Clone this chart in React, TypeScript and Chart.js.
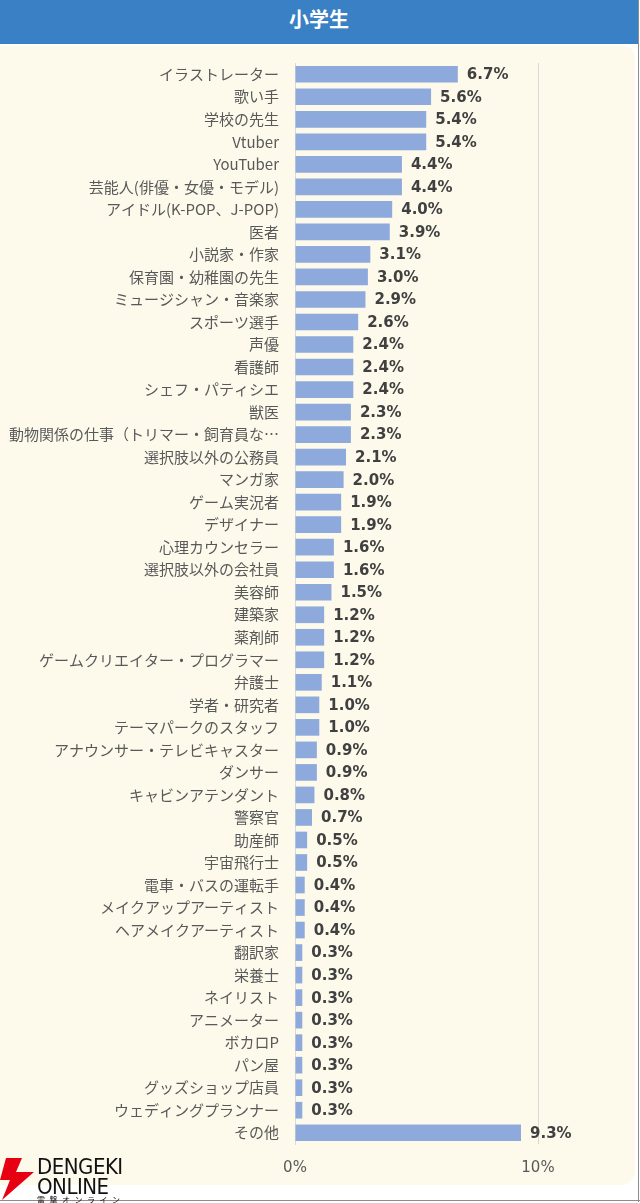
import React, { useEffect, useRef } from "react";
import { Chart, registerables } from "chart.js";

Chart.register(...registerables);

const title = "小学生";

const categories: string[] = [
  "イラストレーター",
  "歌い手",
  "学校の先生",
  "Vtuber",
  "YouTuber",
  "芸能人(俳優・女優・モデル)",
  "アイドル(K-POP、J-POP)",
  "医者",
  "小説家・作家",
  "保育園・幼稚園の先生",
  "ミュージシャン・音楽家",
  "スポーツ選手",
  "声優",
  "看護師",
  "シェフ・パティシエ",
  "獣医",
  "動物関係の仕事（トリマー・飼育員な…",
  "選択肢以外の公務員",
  "マンガ家",
  "ゲーム実況者",
  "デザイナー",
  "心理カウンセラー",
  "選択肢以外の会社員",
  "美容師",
  "建築家",
  "薬剤師",
  "ゲームクリエイター・プログラマー",
  "弁護士",
  "学者・研究者",
  "テーマパークのスタッフ",
  "アナウンサー・テレビキャスター",
  "ダンサー",
  "キャビンアテンダント",
  "警察官",
  "助産師",
  "宇宙飛行士",
  "電車・バスの運転手",
  "メイクアップアーティスト",
  "ヘアメイクアーティスト",
  "翻訳家",
  "栄養士",
  "ネイリスト",
  "アニメーター",
  "ボカロP",
  "パン屋",
  "グッズショップ店員",
  "ウェディングプランナー",
  "その他",
];

const values: number[] = [
  6.7, 5.6, 5.4, 5.4, 4.4, 4.4, 4.0, 3.9, 3.1, 3.0, 2.9, 2.6, 2.4, 2.4, 2.4,
  2.3, 2.3, 2.1, 2.0, 1.9, 1.9, 1.6, 1.6, 1.5, 1.2, 1.2, 1.2, 1.1, 1.0, 1.0,
  0.9, 0.9, 0.8, 0.7, 0.5, 0.5, 0.4, 0.4, 0.4, 0.3, 0.3, 0.3, 0.3, 0.3, 0.3,
  0.3, 0.3, 9.3,
];

const xTickValues: number[] = [0, 10];

const valueLabelPlugin = {
  id: "valueLabels",
  afterDatasetsDraw(chart: any) {
    const ctx = chart.ctx;
    const meta = chart.getDatasetMeta(0);
    ctx.save();
    ctx.font = "bold 15px 'DejaVu Sans', Verdana, sans-serif";
    ctx.fillStyle = "#404040";
    ctx.textAlign = "left";
    ctx.textBaseline = "middle";
    meta.data.forEach((bar: any, i: number) => {
      ctx.fillText(values[i].toFixed(1) + "%", bar.x + 9, bar.y + 1);
    });
    ctx.restore();
  },
};

export default function App() {
  const canvasRef = useRef<HTMLCanvasElement | null>(null);

  useEffect(() => {
    document.body.style.margin = "0";
    const canvas = canvasRef.current;
    if (!canvas) return;
    const chart = new Chart(canvas, {
      type: "bar",
      data: {
        labels: categories,
        datasets: [
          {
            data: values,
            backgroundColor: "#8EA9DB",
            borderWidth: 0,
            barPercentage: 0.74,
            categoryPercentage: 1,
          },
        ],
      },
      options: {
        indexAxis: "y",
        animation: false,
        responsive: false,
        maintainAspectRatio: false,
        layout: { padding: { top: 10, right: 94, bottom: 0, left: 0 } },
        plugins: {
          legend: { display: false },
          tooltip: { enabled: false },
        },
        scales: {
          x: {
            min: 0,
            max: 10,
            afterBuildTicks(scale: any) {
              scale.ticks = xTickValues.map((v) => ({ value: v }));
            },
            afterFit(scale: any) {
              scale.height = 41;
            },
            grid: {
              color: "#D9D9D9",
              drawTicks: false,
            },
            border: { display: false },
            ticks: {
              padding: 15,
              color: "#595959",
              font: { family: "'DejaVu Sans', Verdana, sans-serif", size: 15 },
              callback: (v: any) => v + "%",
            },
          },
          y: {
            afterFit(scale: any) {
              scale.width = 295;
            },
            grid: { display: false, drawTicks: false },
            border: { display: true, color: "#D9D9D9" },
            ticks: {
              autoSkip: false,
              padding: 16,
              color: "#595959",
              font: { family: "'Noto Sans CJK JP', sans-serif", size: 15 },
            },
          },
        },
      },
      plugins: [valueLabelPlugin],
    });
    return () => chart.destroy();
  }, []);

  return (
    <div
      style={{
        position: "relative",
        width: 640,
        height: 1203,
        background: "#FFFFFF",
        overflow: "hidden",
      }}
    >
      <div
        style={{
          position: "absolute",
          left: 0,
          top: 46,
          width: 635,
          height: 1139,
          background: "#FDFAEC",
          borderRadius: "0 10px 14px 0",
        }}
      />
      <canvas
        ref={canvasRef}
        width={632}
        height={1147}
        style={{ position: "absolute", left: 0, top: 38 }}
      />
      <div
        style={{
          position: "absolute",
          left: 0,
          top: 0,
          width: 638,
          height: 44,
          background: "#3A80C4",
          color: "#FFFFFF",
          fontFamily: "'Noto Sans CJK JP', sans-serif",
          fontWeight: 700,
          fontSize: 20,
          lineHeight: "37px",
          textAlign: "center",
        }}
      >
        {title}
      </div>
      <div
        style={{
          position: "absolute",
          right: 1,
          top: 0,
          width: 1,
          height: 1202,
          background: "#8C8C8C",
        }}
      />
      <div
        style={{
          position: "absolute",
          left: 0,
          top: 1200,
          width: 640,
          height: 1,
          background: "#8C8C8C",
        }}
      />
      <svg
        width={36}
        height={42}
        style={{ position: "absolute", left: 0, top: 1158 }}
        viewBox="0 0 36 42"
      >
        <polygon points="6,0 22,0 16,14 34,14 2,42 10,22 0,22" fill="#E60012" />
      </svg>
      <div
        style={{
          position: "absolute",
          left: 37,
          top: 1157,
          fontFamily: "'DejaVu Sans Condensed', 'DejaVu Sans', sans-serif",
          fontSize: 22,
          lineHeight: "20px",
          color: "#111111",
          letterSpacing: -0.5,
        }}
      >
        <div>DENGEKI</div>
        <div>ONLINE</div>
        <div
          style={{
            fontSize: 8,
            lineHeight: "6px",
            letterSpacing: 4.5,
            fontFamily: "'Noto Sans CJK JP', sans-serif",
          }}
        >
          電撃オンライン
        </div>
      </div>
    </div>
  );
}
